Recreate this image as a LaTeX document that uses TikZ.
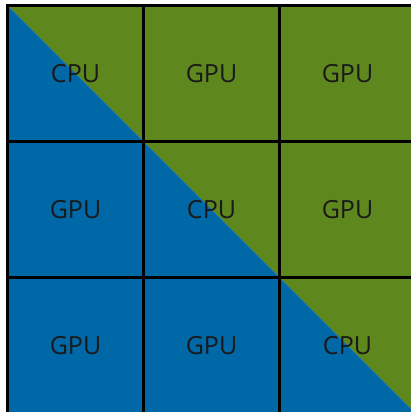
\documentclass[tikz,border=0pt]{standalone}
\usepackage{fontspec}
\setmainfont{Open Sans}
\definecolor{cblue}{RGB}{0,104,166}
\definecolor{cgreen}{RGB}{94,135,30}
\begin{document}
\begin{tikzpicture}[x=1pt,y=-1pt,
  cell/.style={draw=black,line width=2.2pt,minimum size=136pt,inner sep=0pt,font=\fontsize{25}{28}\selectfont,text=black!90}]
\useasboundingbox (0,0) rectangle (411,412);
\begin{scope}
\clip (0,0) rectangle (411,412);
\fill[cgreen] (7.5,5.5) -- (420,5.5) -- (420,418) -- cycle;
\fill[cblue] (7.5,5.5) -- (420,418) -- (7.5,418) -- cycle;
\node[cell] (c11) at (75.5,73.5) {CPU};
\node[cell] (c12) at (211.5,73.5) {GPU};
\node[cell] (c13) at (347.5,73.5) {GPU};
\node[cell] (c21) at (75.5,209.5) {GPU};
\node[cell] (c22) at (211.5,209.5) {CPU};
\node[cell] (c23) at (347.5,209.5) {GPU};
\node[cell] (c31) at (75.5,345.5) {GPU};
\node[cell] (c32) at (211.5,345.5) {GPU};
\node[cell] (c33) at (347.5,345.5) {CPU};
\end{scope}
\end{tikzpicture}
\end{document}
